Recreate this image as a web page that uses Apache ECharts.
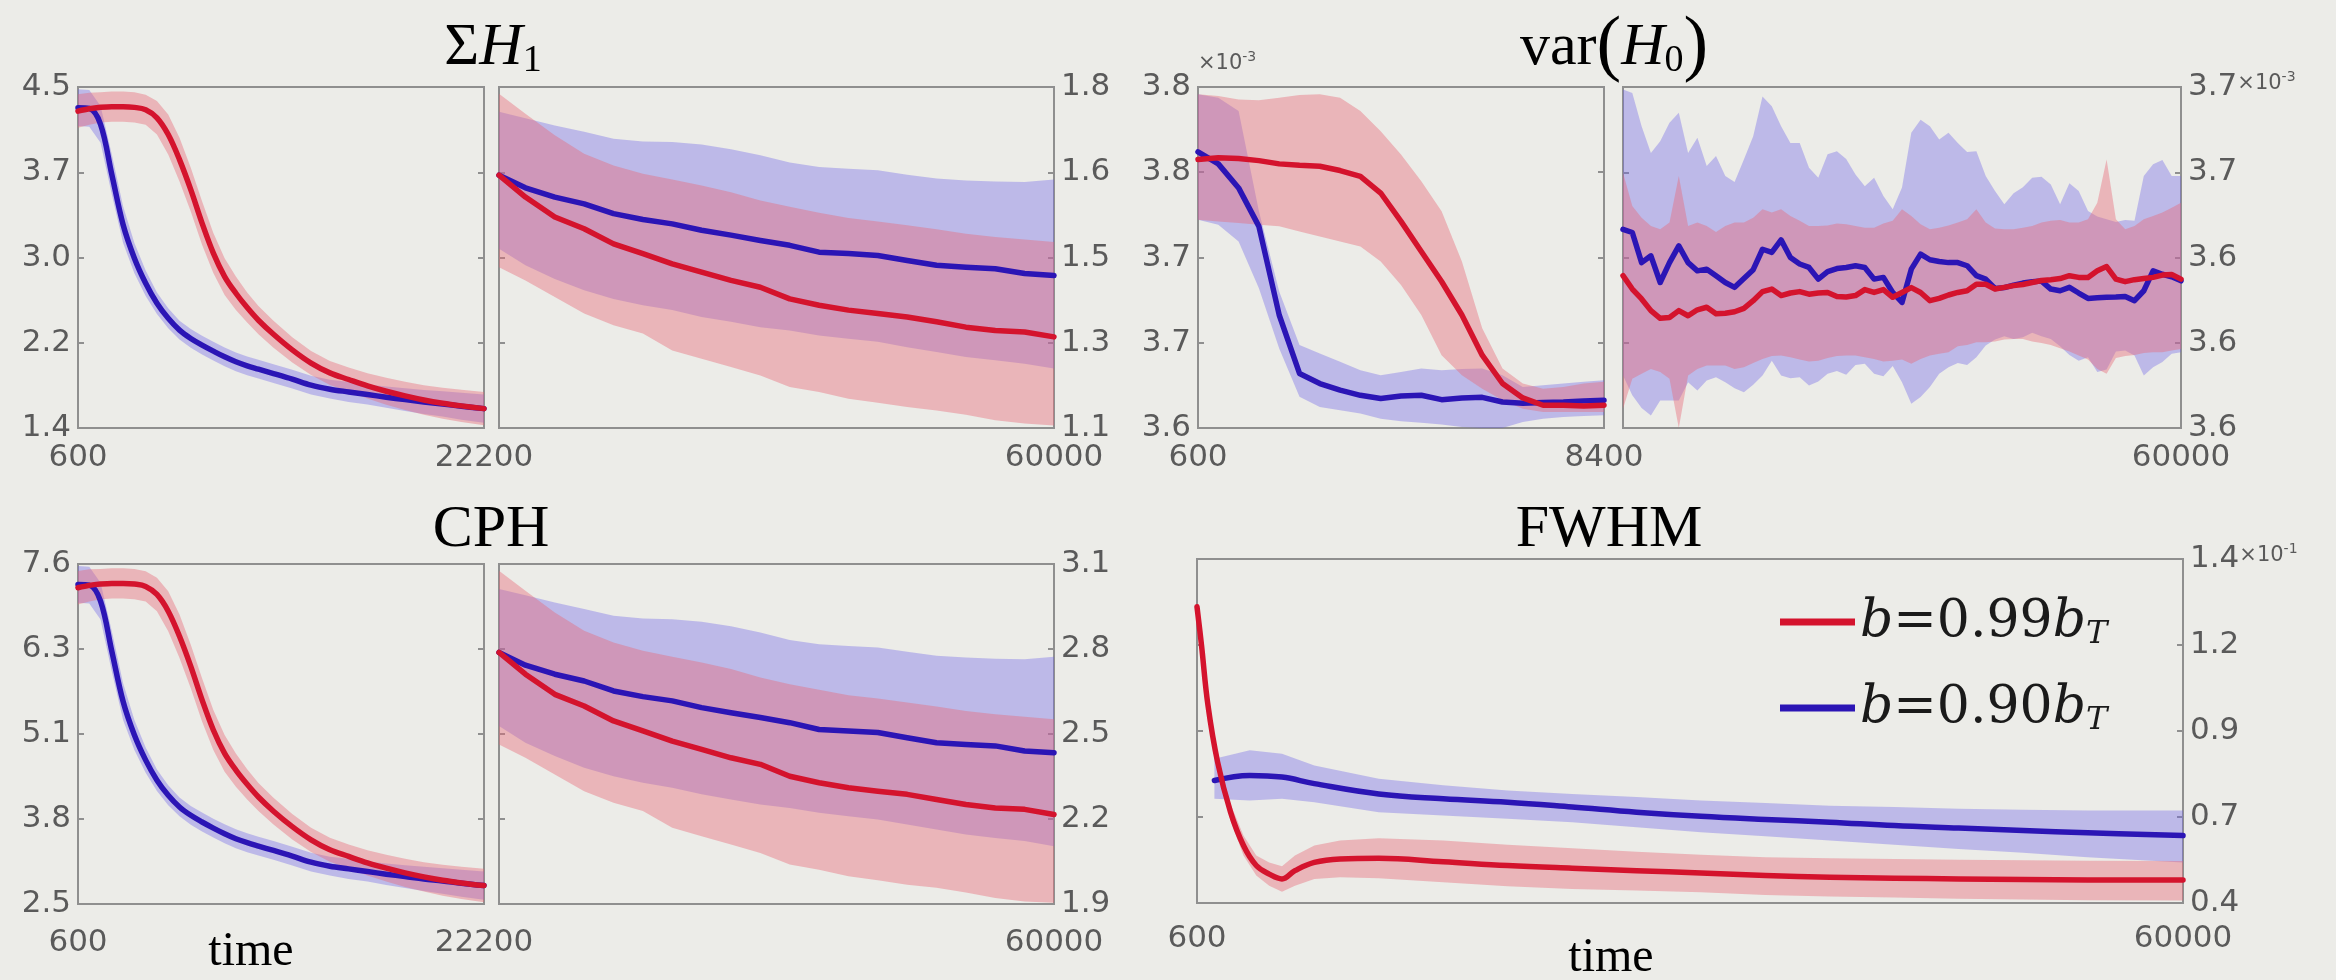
<!DOCTYPE html>
<html>
<head>
<meta charset="utf-8">
<script src="https://cdn.jsdelivr.net/npm/echarts@6/dist/echarts.min.js"></script>
<style>
  html, body { margin: 0; padding: 0; background: #ecece8; }
  #chart { width: 2336px; height: 980px; }
</style>
</head>
<body>
<div id="chart"></div>
<script>
// ---------- time grids ----------
const earlyTime = [600,1200,1800,2400,3000,3600,4200,4800,5400,6000,6600,7200,7800,8400,9000,9600,10200,11000,12000,13000,14000,15000,16000,17000,18000,19000,20000,21000,22200];
const lateTime = [22200,24000,26000,28000,30000,32000,34000,36000,38000,40000,42000,44000,46000,48000,50000,52000,54000,56000,58000,60000];
const varEarlyTime = [600,990,1380,1770,2160,2550,2940,3330,3720,4110,4500,4890,5280,5670,6060,6450,6840,7230,7620,8010,8400];
const varLateTime = [8400,9260,10120,10980,11840,12700,13560,14420,15280,16140,17000,17860,18720,19580,20440,21300,22160,23020,23880,24740,25600,26460,27320,28180,29040,29900,30760,31620,32480,33340,34200,35060,35920,36780,37640,38500,39360,40220,41080,41940,42800,43660,44520,45380,46240,47100,47960,48820,49680,50540,51400,52260,53120,53980,54840,55700,56560,57420,58280,59140,60000];
const fwhmTimeRed = [600,870,1260,1840,2620,3400,4170,4950,5720,6500,7670,9220,11550,15430,19310,23200,27080,30960,34840,38720,42610,46490,50370,54250,60000];
const fwhmTimeBlue = [1650,3780,5720,7670,11550,15430,19310,23200,27080,30960,34840,38720,42610,46490,50370,54250,60000];

// ---------- ΣH1 ----------
const sumH1EarlyRed = [4.281,4.302,4.315,4.321,4.321,4.315,4.293,4.220,4.068,3.840,3.567,3.263,2.990,2.777,2.625,2.495,2.380,2.252,2.110,1.990,1.901,1.841,1.783,1.734,1.692,1.655,1.625,1.601,1.576];
const sumH1EarlyRedHi = [4.433,4.448,4.452,4.458,4.458,4.452,4.430,4.372,4.250,4.038,3.765,3.461,3.172,2.944,2.777,2.632,2.508,2.374,2.225,2.099,2.010,1.950,1.898,1.856,1.820,1.789,1.765,1.747,1.728];
const sumH1EarlyRedLo = [4.129,4.156,4.178,4.184,4.184,4.178,4.156,4.068,3.886,3.642,3.369,3.065,2.808,2.610,2.473,2.358,2.252,2.130,1.995,1.881,1.792,1.732,1.668,1.612,1.564,1.521,1.485,1.455,1.424];
const sumH1EarlyBlue = [4.312,4.305,4.160,3.704,3.248,2.944,2.716,2.534,2.397,2.290,2.214,2.154,2.099,2.047,2.002,1.965,1.935,1.895,1.844,1.789,1.753,1.728,1.704,1.680,1.658,1.637,1.619,1.598,1.576];
const sumH1EarlyBlueHi = [4.479,4.472,4.327,3.886,3.415,3.081,2.831,2.631,2.488,2.375,2.299,2.239,2.184,2.132,2.087,2.050,2.020,1.980,1.929,1.874,1.838,1.819,1.795,1.777,1.761,1.746,1.734,1.720,1.704];
const sumH1EarlyBlueLo = [4.145,4.138,3.993,3.522,3.081,2.807,2.601,2.437,2.306,2.205,2.129,2.069,2.014,1.962,1.917,1.880,1.850,1.810,1.759,1.704,1.668,1.637,1.613,1.583,1.555,1.528,1.504,1.476,1.448];

const sumH1LateRed = [1.619,1.574,1.533,1.509,1.478,1.458,1.437,1.420,1.403,1.389,1.365,1.352,1.342,1.335,1.328,1.318,1.307,1.300,1.297,1.287];
const sumH1LateRedHi = [1.786,1.745,1.701,1.663,1.639,1.622,1.610,1.598,1.584,1.567,1.554,1.542,1.531,1.524,1.516,1.508,1.499,1.492,1.487,1.482];
const sumH1LateRedLo = [1.430,1.403,1.369,1.335,1.311,1.294,1.259,1.242,1.225,1.208,1.184,1.174,1.160,1.152,1.143,1.136,1.127,1.116,1.109,1.105];
const sumH1LateBlue = [1.619,1.593,1.574,1.560,1.540,1.528,1.519,1.506,1.496,1.485,1.475,1.461,1.458,1.454,1.444,1.434,1.430,1.427,1.417,1.413];
const sumH1LateBlueHi = [1.749,1.736,1.721,1.708,1.694,1.688,1.687,1.682,1.672,1.660,1.645,1.636,1.632,1.629,1.620,1.612,1.608,1.606,1.605,1.610];
const sumH1LateBlueLo = [1.468,1.434,1.406,1.383,1.365,1.352,1.342,1.328,1.318,1.307,1.300,1.290,1.283,1.277,1.266,1.256,1.246,1.239,1.232,1.222];

// ---------- var(H0), in units of 1e-3 ----------
const varEarlyRed = [3.7732,3.7743,3.7738,3.7725,3.7704,3.7695,3.7689,3.7661,3.7624,3.7516,3.7333,3.7139,3.6945,3.6729,3.6470,3.6287,3.6194,3.6147,3.6147,3.6142,3.6147];
const varEarlyRedHi = [3.8153,3.8142,3.8120,3.8114,3.8131,3.8148,3.8153,3.8131,3.8045,3.7915,3.7764,3.7592,3.7398,3.7074,3.6643,3.6384,3.6287,3.6254,3.6265,3.6287,3.6298];
const varEarlyRedLo = [3.7344,3.7333,3.7322,3.7311,3.7301,3.7268,3.7236,3.7204,3.7171,3.7074,3.6923,3.6729,3.6470,3.6341,3.6254,3.6179,3.6125,3.6103,3.6103,3.6103,3.6103];
const varEarlyBlue = [3.7782,3.7704,3.7549,3.7301,3.6729,3.6352,3.6287,3.6244,3.6211,3.6190,3.6207,3.6211,3.6183,3.6194,3.6198,3.6168,3.6160,3.6164,3.6168,3.6175,3.6179];
const varEarlyBlueHi = [3.8153,3.8131,3.8045,3.7398,3.6880,3.6535,3.6481,3.6427,3.6373,3.6341,3.6362,3.6384,3.6373,3.6380,3.6384,3.6341,3.6265,3.6276,3.6287,3.6298,3.6308];
const varEarlyBlueLo = [3.7344,3.7311,3.7204,3.6902,3.6513,3.6201,3.6136,3.6114,3.6093,3.6060,3.6043,3.6034,3.6022,3.6006,3.5996,3.6000,3.6039,3.6060,3.6071,3.6078,3.6082];

const varLateRed = [3.6136,3.6089,3.6054,3.6013,3.5986,3.5989,3.6013,3.5995,3.6016,3.6025,3.6002,3.6004,3.6009,3.6021,3.6048,3.6080,3.6089,3.6066,3.6075,3.6080,3.6071,3.6075,3.6077,3.6063,3.6061,3.6066,3.6087,3.6077,3.6087,3.6060,3.6077,3.6094,3.6077,3.6048,3.6056,3.6068,3.6077,3.6083,3.6106,3.6106,3.6089,3.6095,3.6101,3.6105,3.6112,3.6119,3.6122,3.6126,3.6136,3.6130,3.6130,3.6153,3.6168,3.6124,3.6115,3.6122,3.6126,3.6130,3.6138,3.6140,3.6124];
const varLateRedHi = [3.6498,3.6381,3.6340,3.6311,3.6299,3.6323,3.6487,3.6311,3.6323,3.6311,3.6290,3.6311,3.6323,3.6323,3.6340,3.6370,3.6358,3.6370,3.6346,3.6329,3.6311,3.6311,3.6313,3.6320,3.6317,3.6311,3.6305,3.6305,3.6320,3.6329,3.6370,3.6346,3.6317,3.6299,3.6305,3.6313,3.6323,3.6335,3.6370,3.6323,3.6302,3.6299,3.6299,3.6305,3.6311,3.6323,3.6329,3.6332,3.6323,3.6323,3.6335,3.6393,3.6545,3.6335,3.6299,3.6311,3.6335,3.6346,3.6358,3.6375,3.6393];
const varLateRedLo = [3.5668,3.5773,3.5791,3.5808,3.5797,3.5773,3.5598,3.5785,3.5808,3.5820,3.5820,3.5820,3.5808,3.5814,3.5829,3.5843,3.5853,3.5855,3.5849,3.5841,3.5834,3.5837,3.5846,3.5853,3.5855,3.5855,3.5849,3.5843,3.5834,3.5837,3.5841,3.5826,3.5843,3.5855,3.5861,3.5867,3.5888,3.5892,3.5902,3.5902,3.5904,3.5911,3.5913,3.5913,3.5904,3.5899,3.5892,3.5881,3.5869,3.5855,3.5841,3.5808,3.5791,3.5846,3.5853,3.5857,3.5864,3.5867,3.5867,3.5873,3.5878];
const varLateBlue = [3.6299,3.6288,3.6182,3.6206,3.6112,3.6182,3.6241,3.6182,3.6153,3.6159,3.6136,3.6112,3.6095,3.6126,3.6157,3.6229,3.6218,3.6262,3.6200,3.6177,3.6165,3.6124,3.6150,3.6161,3.6165,3.6171,3.6165,3.6124,3.6130,3.6077,3.6042,3.6159,3.6212,3.6192,3.6186,3.6182,3.6182,3.6171,3.6136,3.6124,3.6091,3.6094,3.6103,3.6110,3.6115,3.6117,3.6089,3.6083,3.6095,3.6075,3.6056,3.6058,3.6060,3.6061,3.6063,3.6048,3.6083,3.6153,3.6141,3.6132,3.6118];
const varLateBlueHi = [3.6791,3.6779,3.6662,3.6568,3.6609,3.6674,3.6709,3.6568,3.6621,3.6522,3.6557,3.6487,3.6466,3.6545,3.6627,3.6767,3.6732,3.6662,3.6603,3.6603,3.6516,3.6481,3.6563,3.6574,3.6547,3.6492,3.6451,3.6481,3.6416,3.6370,3.6446,3.6639,3.6685,3.6662,3.6615,3.6639,3.6603,3.6571,3.6574,3.6487,3.6434,3.6387,3.6426,3.6447,3.6481,3.6484,3.6457,3.6387,3.6461,3.6434,3.6364,3.6344,3.6335,3.6325,3.6332,3.6329,3.6487,3.6528,3.6543,3.6487,3.6487];
const varLateBlueLo = [3.5785,3.5715,3.5670,3.5644,3.5697,3.5697,3.5697,3.5761,3.5732,3.5767,3.5779,3.5761,3.5740,3.5726,3.5752,3.5785,3.5837,3.5785,3.5775,3.5779,3.5750,3.5764,3.5791,3.5801,3.5787,3.5822,3.5826,3.5791,3.5782,3.5818,3.5761,3.5685,3.5709,3.5744,3.5791,3.5814,3.5829,3.5822,3.5849,3.5890,3.5911,3.5923,3.5913,3.5919,3.5935,3.5923,3.5913,3.5888,3.5857,3.5837,3.5849,3.5797,3.5806,3.5869,3.5873,3.5855,3.5785,3.5814,3.5832,3.5861,3.5867];

// ---------- CPH ----------
const cphEarlyRed = [7.244,7.279,7.299,7.309,7.309,7.299,7.264,7.143,6.892,6.516,6.064,5.562,5.110,4.759,4.508,4.295,4.105,3.892,3.660,3.462,3.313,3.213,3.117,3.037,2.967,2.907,2.856,2.816,2.776];
const cphEarlyRedHi = [7.495,7.520,7.525,7.535,7.535,7.525,7.490,7.394,7.193,6.842,6.390,5.888,5.411,5.035,4.759,4.521,4.316,4.093,3.851,3.643,3.494,3.394,3.308,3.238,3.178,3.128,3.087,3.057,3.027];
const cphEarlyRedLo = [6.993,7.038,7.073,7.083,7.083,7.073,7.038,6.892,6.591,6.190,5.738,5.236,4.809,4.483,4.257,4.069,3.894,3.691,3.469,3.281,3.132,3.032,2.926,2.836,2.756,2.686,2.625,2.575,2.525];
const cphEarlyBlue = [7.294,7.284,7.043,6.290,5.537,5.035,4.658,4.357,4.131,3.956,3.830,3.730,3.639,3.554,3.479,3.419,3.368,3.303,3.218,3.127,3.067,3.027,2.987,2.947,2.912,2.876,2.846,2.811,2.776];
const cphEarlyBlueHi = [7.570,7.560,7.319,6.591,5.813,5.261,4.849,4.518,4.282,4.097,3.971,3.871,3.780,3.695,3.620,3.560,3.509,3.444,3.359,3.268,3.208,3.178,3.138,3.108,3.083,3.057,3.037,3.012,2.987];
const cphEarlyBlueLo = [7.018,7.008,6.767,5.989,5.261,4.809,4.467,4.196,3.980,3.815,3.689,3.589,3.498,3.413,3.338,3.278,3.227,3.162,3.077,2.986,2.926,2.876,2.836,2.786,2.741,2.695,2.655,2.610,2.565];

const cphLateRed = [2.788,2.711,2.640,2.599,2.546,2.511,2.475,2.446,2.416,2.393,2.351,2.328,2.310,2.298,2.287,2.269,2.251,2.239,2.234,2.216];
const cphLateRedHi = [3.076,3.006,2.929,2.864,2.823,2.794,2.773,2.752,2.729,2.699,2.676,2.656,2.637,2.625,2.611,2.597,2.581,2.570,2.561,2.552];
const cphLateRedLo = [2.463,2.416,2.357,2.298,2.257,2.228,2.169,2.139,2.110,2.080,2.039,2.021,1.998,1.984,1.968,1.957,1.941,1.921,1.909,1.904];
const cphLateBlue = [2.788,2.743,2.711,2.687,2.652,2.632,2.617,2.593,2.575,2.558,2.540,2.516,2.511,2.505,2.487,2.469,2.463,2.458,2.440,2.434];
const cphLateBlueHi = [3.012,2.990,2.964,2.941,2.917,2.908,2.905,2.896,2.880,2.858,2.832,2.817,2.811,2.805,2.790,2.776,2.770,2.766,2.764,2.773];
const cphLateBlueLo = [2.528,2.469,2.422,2.381,2.351,2.328,2.310,2.287,2.269,2.251,2.239,2.222,2.210,2.198,2.181,2.163,2.145,2.133,2.122,2.104];

// ---------- FWHM ----------
const fwhmRed = [1.261,1.150,0.975,0.810,0.664,0.567,0.509,0.484,0.470,0.494,0.518,0.528,0.530,0.520,0.509,0.501,0.494,0.487,0.480,0.475,0.472,0.470,0.468,0.467,0.467];
const fwhmRedHi = [1.276,1.164,0.992,0.829,0.688,0.596,0.538,0.518,0.507,0.538,0.567,0.582,0.588,0.582,0.569,0.559,0.549,0.540,0.533,0.530,0.528,0.526,0.524,0.523,0.522];
const fwhmRedLo = [1.247,1.135,0.957,0.790,0.640,0.538,0.480,0.450,0.433,0.450,0.470,0.475,0.472,0.460,0.449,0.441,0.436,0.431,0.423,0.419,0.416,0.412,0.410,0.408,0.407];
const fwhmBlue = [0.756,0.771,0.766,0.747,0.717,0.703,0.693,0.679,0.664,0.652,0.643,0.635,0.625,0.618,0.611,0.604,0.596];
const fwhmBlueHi = [0.819,0.844,0.834,0.800,0.761,0.742,0.727,0.717,0.708,0.698,0.691,0.683,0.679,0.674,0.671,0.669,0.669];
const fwhmBlueLo = [0.703,0.698,0.703,0.693,0.664,0.654,0.645,0.635,0.620,0.606,0.594,0.582,0.569,0.557,0.546,0.533,0.518];

// ---------- axis ticks and tick labels ----------
const sumH1EarlyTicks = [1.4, 2.175, 2.95, 3.725, 4.5];
const sumH1EarlyTickLabels = ['1.4', '2.2', '3.0', '3.7', '4.5'];
const sumH1LateTicks = [1.1, 1.275, 1.45, 1.625, 1.8];
const sumH1LateTickLabels = ['1.1', '1.3', '1.5', '1.6', '1.8'];
const varEarlyTicks = [3.6, 3.655, 3.71, 3.765, 3.82];
const varEarlyTickLabels = ['3.6', '3.7', '3.7', '3.8', '3.8'];
const varLateTicks = [3.56, 3.59, 3.62, 3.65, 3.68];
const varLateTickLabels = ['3.6', '3.6', '3.6', '3.7', '{v|3.7}{m|×10}{e|-3}'];
const cphEarlyTicks = [2.5, 3.775, 5.05, 6.325, 7.6];
const cphEarlyTickLabels = ['2.5', '3.8', '5.1', '6.3', '7.6'];
const cphLateTicks = [1.9, 2.2, 2.5, 2.8, 3.1];
const cphLateTickLabels = ['1.9', '2.2', '2.5', '2.8', '3.1'];
const fwhmTicks = [0.4, 0.65, 0.9, 1.15, 1.4];
const fwhmTickLabels = ['0.4', '0.7', '0.9', '1.2', '{v|1.4}{m|×10}{e|-1}'];

const seriesNames = ['b=0.99b_T', 'b=0.90b_T'];

// ---------- styling ----------
const BG = '#ecece8';
const RED = '#d4132d';
const BLUE = '#2b15b5';
const RED_BAND = 'rgba(232,105,118,0.42)';
const BLUE_BAND = 'rgba(112,102,232,0.38)';
const TICK_FONT = 'DejaVu Sans';
const TICK_SIZE = 31;
const TICK_COLOR = '#5a5a5a';
const SERIF = 'Liberation Serif';
const labelRich = {
  v: { fontSize: TICK_SIZE, color: TICK_COLOR, fontFamily: TICK_FONT },
  m: { fontSize: 21, color: TICK_COLOR, fontFamily: TICK_FONT, padding: [0, 0, 6, 0] },
  e: { fontSize: 14, color: TICK_COLOR, fontFamily: TICK_FONT, padding: [0, 0, 19, 0] }
};

const panels = [
  { rect: [78, 87, 406, 341], x: [600, 22200], xLabels: [600, 22200], xMargin: 14, y: [1.4, 4.5], ticks: sumH1EarlyTicks, tickLabels: sumH1EarlyTickLabels, side: 'left', smooth: 0.35,
    redT: earlyTime, red: sumH1EarlyRed, redHi: sumH1EarlyRedHi, redLo: sumH1EarlyRedLo,
    blueT: earlyTime, blue: sumH1EarlyBlue, blueHi: sumH1EarlyBlueHi, blueLo: sumH1EarlyBlueLo },
  { rect: [499, 87, 555, 341], x: [22200, 60000], xLabels: [60000], xMargin: 14, y: [1.1, 1.8], ticks: sumH1LateTicks, tickLabels: sumH1LateTickLabels, side: 'right', smooth: false,
    redT: lateTime, red: sumH1LateRed, redHi: sumH1LateRedHi, redLo: sumH1LateRedLo,
    blueT: lateTime, blue: sumH1LateBlue, blueHi: sumH1LateBlueHi, blueLo: sumH1LateBlueLo },
  { rect: [1198, 87, 406, 341], x: [600, 8400], xLabels: [600, 8400], xMargin: 14, y: [3.6, 3.82], ticks: varEarlyTicks, tickLabels: varEarlyTickLabels, side: 'left', smooth: false, axisName: '{m|×10}{e|-3}',
    redT: varEarlyTime, red: varEarlyRed, redHi: varEarlyRedHi, redLo: varEarlyRedLo,
    blueT: varEarlyTime, blue: varEarlyBlue, blueHi: varEarlyBlueHi, blueLo: varEarlyBlueLo },
  { rect: [1623, 87, 558, 341], x: [8400, 60000], xLabels: [60000], xMargin: 14, y: [3.56, 3.68], ticks: varLateTicks, tickLabels: varLateTickLabels, side: 'right', smooth: false,
    redT: varLateTime, red: varLateRed, redHi: varLateRedHi, redLo: varLateRedLo,
    blueT: varLateTime, blue: varLateBlue, blueHi: varLateBlueHi, blueLo: varLateBlueLo },
  { rect: [78, 564, 406, 340], x: [600, 22200], xLabels: [600, 22200], xMargin: 23, y: [2.5, 7.6], ticks: cphEarlyTicks, tickLabels: cphEarlyTickLabels, side: 'left', smooth: 0.35,
    redT: earlyTime, red: cphEarlyRed, redHi: cphEarlyRedHi, redLo: cphEarlyRedLo,
    blueT: earlyTime, blue: cphEarlyBlue, blueHi: cphEarlyBlueHi, blueLo: cphEarlyBlueLo },
  { rect: [499, 564, 555, 340], x: [22200, 60000], xLabels: [60000], xMargin: 23, y: [1.9, 3.1], ticks: cphLateTicks, tickLabels: cphLateTickLabels, side: 'right', smooth: false,
    redT: lateTime, red: cphLateRed, redHi: cphLateRedHi, redLo: cphLateRedLo,
    blueT: lateTime, blue: cphLateBlue, blueHi: cphLateBlueHi, blueLo: cphLateBlueLo },
  { rect: [1197, 559, 986, 344], x: [600, 60000], xLabels: [600, 60000], xMargin: 20, y: [0.4, 1.4], ticks: fwhmTicks, tickLabels: fwhmTickLabels, side: 'right', smooth: 0.4,
    redT: fwhmTimeRed, red: fwhmRed, redHi: fwhmRedHi, redLo: fwhmRedLo,
    blueT: fwhmTimeBlue, blue: fwhmBlue, blueHi: fwhmBlueHi, blueLo: fwhmBlueLo }
];

function pairs(t, v) { return t.map((x, i) => [x, v[i]]); }

// Filled band between two curves, drawn as one polygon through the axis scales.
function bandSeries(gi, t, lo, hi, fill, z) {
  return {
    type: 'custom', xAxisIndex: gi, yAxisIndex: gi * 2, z: z, silent: true,
    data: t.map((x, i) => [x, lo[i], hi[i]]),
    encode: { x: 0, y: [1, 2] },
    renderItem: function (params, api) {
      if (params.dataIndex !== 0) return null;
      const cs = params.coordSys;
      const pts = [];
      for (let i = 0; i < t.length; i++) pts.push(api.coord([t[i], hi[i]]));
      for (let i = t.length - 1; i >= 0; i--) pts.push(api.coord([t[i], lo[i]]));
      const clipped = pts.map(p => [
        Math.min(Math.max(p[0], cs.x), cs.x + cs.width),
        Math.min(Math.max(p[1], cs.y), cs.y + cs.height)
      ]);
      return { type: 'polygon', shape: { points: clipped, smooth: 0 }, style: { fill: fill } };
    }
  };
}

function lineSeries(gi, name, t, v, color, smooth, z) {
  return {
    type: 'line', name: name, xAxisIndex: gi, yAxisIndex: gi * 2, z: z,
    data: pairs(t, v), showSymbol: false, symbol: 'none', color: color,
    smooth: smooth, clip: true, silent: true,
    lineStyle: { width: 5.5, color: color, cap: 'round', join: 'round' }
  };
}

const grid = [], xAxis = [], yAxis = [], series = [];
panels.forEach((p, gi) => {
  grid.push({ left: p.rect[0], top: p.rect[1], width: p.rect[2], height: p.rect[3],
    show: true, borderColor: '#8f8f8f', borderWidth: 2, backgroundColor: 'transparent' });
  xAxis.push({
    type: 'value', gridIndex: gi, min: p.x[0], max: p.x[1],
    axisLine: { show: false }, axisTick: { show: false }, splitLine: { show: false },
    axisLabel: { customValues: p.xLabels, formatter: v => String(v), fontSize: TICK_SIZE, color: TICK_COLOR,
      fontFamily: TICK_FONT, margin: p.xMargin }
  });
  const fmt = v => {
    for (let i = 0; i < p.ticks.length; i++) if (Math.abs(p.ticks[i] - v) < 1e-9) return p.tickLabels[i];
    return '';
  };
  const main = {
    type: 'value', gridIndex: gi, position: p.side, min: p.y[0], max: p.y[1],
    axisLine: { show: false }, splitLine: { show: false },
    axisTick: { show: true, inside: true, length: 6, customValues: p.ticks, lineStyle: { color: '#8f8f8f', width: 2 } },
    axisLabel: { customValues: p.ticks, formatter: fmt, fontSize: TICK_SIZE, color: TICK_COLOR, fontFamily: TICK_FONT,
      margin: 7, rich: labelRich }
  };
  if (p.axisName) {
    main.name = p.axisName;
    main.nameLocation = 'end';
    main.nameGap = 4;
    main.nameTextStyle = { align: 'left', verticalAlign: 'bottom', rich: labelRich };
  }
  yAxis.push(main);
  yAxis.push({
    type: 'value', gridIndex: gi, position: p.side === 'left' ? 'right' : 'left', min: p.y[0], max: p.y[1],
    axisLine: { show: false }, splitLine: { show: false }, axisLabel: { show: false },
    axisTick: { show: true, inside: true, length: 6, customValues: p.ticks, lineStyle: { color: '#8f8f8f', width: 2 } }
  });
  series.push(bandSeries(gi, p.blueT, p.blueLo, p.blueHi, BLUE_BAND, 1));
  series.push(bandSeries(gi, p.redT, p.redLo, p.redHi, RED_BAND, 2));
  series.push(lineSeries(gi, seriesNames[1], p.blueT, p.blue, BLUE, p.smooth, 3));
  series.push(lineSeries(gi, seriesNames[0], p.redT, p.red, RED, p.smooth, 4));
});

const TITLE_SIZE = 60;
const titleRich = {
  n: { fontFamily: SERIF, fontSize: TITLE_SIZE, color: '#1a1a1a' },
  i: { fontFamily: SERIF, fontSize: TITLE_SIZE, fontStyle: 'italic', color: '#1a1a1a' },
  p: { fontFamily: SERIF, fontSize: 74, color: '#1a1a1a' },
  b: { fontFamily: SERIF, fontSize: 38, color: '#1a1a1a', padding: [26, 0, 0, 0] },
  t: { fontFamily: SERIF, fontSize: 48, color: '#1a1a1a' }
};
function titleText(x, y, text) {
  return { type: 'text', x: x, y: y, silent: true,
    style: { text: text, rich: titleRich, align: 'center', verticalAlign: 'middle' } };
}

const LEGEND_SIZE = 52;
const option = {
  backgroundColor: BG,
  animation: false,
  grid: grid, xAxis: xAxis, yAxis: yAxis, series: series,
  legend: {
    data: seriesNames, orient: 'vertical', left: 1775, top: 588, itemGap: 28,
    icon: 'rect', itemWidth: 75, itemHeight: 7, selectedMode: false,
    formatter: name => name === seriesNames[0] ? '{i|b}{n|=0.99}{i|b}{s|T}' : '{i|b}{n|=0.90}{i|b}{s|T}',
    textStyle: {
      lineHeight: 58,
      rich: {
        i: { fontFamily: 'DejaVu Serif', fontSize: LEGEND_SIZE, fontStyle: 'italic', color: '#1a1a1a' },
        n: { fontFamily: 'DejaVu Serif', fontSize: LEGEND_SIZE, color: '#1a1a1a' },
        s: { fontFamily: 'DejaVu Serif', fontSize: 32, fontStyle: 'italic', color: '#1a1a1a', padding: [26, 0, 0, 0] }
      }
    }
  },
  graphic: [
    titleText(493, 48, '{n|Σ}{i|H}{b|1}'),
    titleText(1614, 48, '{n|var}{p|(}{i|H}{b|0}{p|)}'),
    titleText(491, 530, '{n|CPH}'),
    titleText(1609, 530, '{n|FWHM}'),
    titleText(251, 952, '{t|time}'),
    titleText(1611, 958, '{t|time}')
  ]
};

const chart = echarts.init(document.getElementById('chart'), null, { width: 2336, height: 980 });
chart.setOption(option);
</script>
</body>
</html>
